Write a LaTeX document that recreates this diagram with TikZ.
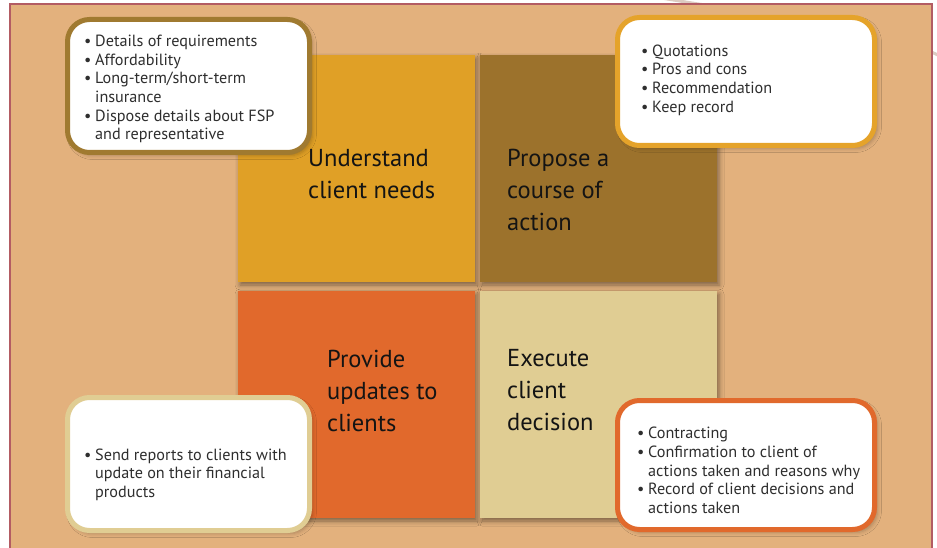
\documentclass[tikz,border=0pt]{standalone}
\usepackage{fontspec}
\setmainfont{PT Sans}
\usetikzlibrary{shadows.blur}

\definecolor{backdrop}{HTML}{E3B17D}
\definecolor{framecol}{HTML}{B35C63}
\definecolor{needscol}{HTML}{E0A026}
\definecolor{proposecol}{HTML}{9C722C}
\definecolor{updatecol}{HTML}{E1692C}
\definecolor{executecol}{HTML}{E0CD93}
\definecolor{notebrown}{HTML}{A07A30}
\definecolor{noteamber}{HTML}{E5A32A}
\definecolor{inkgrey}{HTML}{2E2E2E}
\definecolor{swoosh}{HTML}{CDB4A6}

\tikzset{
  stage/.style={minimum width=237pt, minimum height=227pt, inner sep=0pt, outer sep=0pt,
    blur shadow={shadow xshift=2pt, shadow yshift=-3pt, shadow blur radius=5pt, shadow opacity=45}},
  stagetext/.style={anchor=west, align=left, inner sep=0pt, text=black!92,
    font=\fontsize{24.5}{32}\selectfont},
  note/.style={draw=#1, line width=5pt, fill=white, rounded corners=22pt, inner sep=0pt,
    blur shadow={shadow xshift=3pt, shadow yshift=-3pt, shadow blur radius=4pt, shadow opacity=25}},
  notetext/.style={anchor=west, inner sep=0pt, text=inkgrey,
    font=\fontsize{16.2}{18.7}\selectfont},
}

\begin{document}
\begin{tikzpicture}[x=1pt, y=-1pt]
\newcommand{\bul}[1]{\textbullet & #1\\}
\newcommand{\cont}[1]{& #1\\}

\useasboundingbox (0,0) rectangle (937,548);

% faint stroke behind the panel
\draw[swoosh, line width=3pt, opacity=.7] (650,-4) .. controls (750,14) and (900,28) .. (950,62);

% panel
\fill[backdrop] (9.5,4) rectangle (932,560);
\draw[framecol, line width=2pt] (9.5,560) -- (9.5,4) -- (932,4) -- (932,560);

% the four stages
\node[stage, fill=needscol] (needs) at (356.5,168.5) {};
\node[stage, fill=proposecol] (propose) at (598.5,168.5) {};
\node[stage, fill=updatecol] (update) at (356.5,404.5) {};
\node[stage, fill=executecol] (execute) at (598.5,404.5) {};

\node[stagetext] (needslabel) at (308,174) {Understand\\client needs};
\node[stagetext] (proposelabel) at (507,190) {Propose a\\course of\\action};
\node[stagetext] (updatelabel) at (327,390.5) {Provide\\updates to\\clients};
\node[stagetext] (executelabel) at (507,390.5) {Execute\\client\\decision};

% call-outs
\node[note=notebrown, minimum width=242pt, minimum height=133pt] (needsnote) at (188.5,86) {};
\node[note=noteamber, minimum width=257pt, minimum height=128pt] (proposenote) at (746,81.5) {};
\node[note=executecol, minimum width=242pt, minimum height=133pt] (updatenote) at (188.5,464) {};
\node[note=updatecol, minimum width=257pt, minimum height=129pt] (executenote) at (746,465) {};

\node[notetext] (needslist) at (84,89.5) {\begin{tabular}{@{}p{11pt}@{}l@{}}
  \bul{Details of requirements}
  \bul{Affordability}
  \bul{Long-term/short-term}
  \cont{insurance}
  \bul{Dispose details about FSP}
  \cont{and representative}
\end{tabular}};
\node[notetext] (proposelist) at (641,80.5) {\begin{tabular}{@{}p{11pt}@{}l@{}}
  \bul{Quotations}
  \bul{Pros and cons}
  \bul{Recommendation}
  \bul{Keep record}
\end{tabular}};
\node[notetext] (updatelist) at (84,475) {\begin{tabular}{@{}p{11pt}@{}l@{}}
  \bul{Send reports to clients with}
  \cont{update on their financial}
  \cont{products}
\end{tabular}};
\node[notetext] (executelist) at (637,472.5) {\begin{tabular}{@{}p{11pt}@{}l@{}}
  \bul{Contracting}
  \bul{Confirmation to client of}
  \cont{actions taken and reasons why}
  \bul{Record of client decisions and}
  \cont{actions taken}
\end{tabular}};
\end{tikzpicture}
\end{document}
